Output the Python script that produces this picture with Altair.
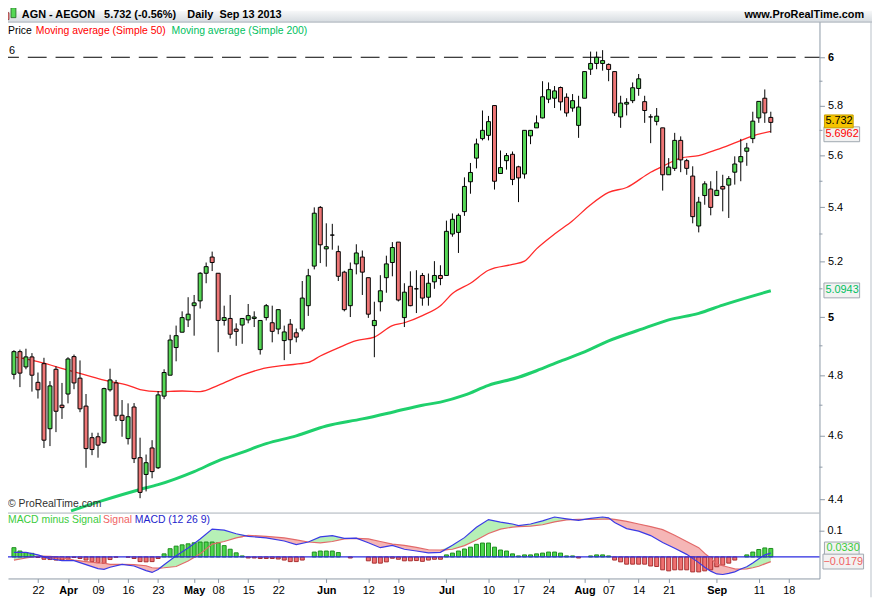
import json
import altair as alt
import pandas as pd

# ---------------- data ----------------
idx = list(range(1, 128))  # trading days Mar 18 .. Sep 13 2013

opens = [4.803,4.880,4.828,4.862,4.776,4.839,4.623,4.820,4.700,4.737,
4.863,4.790,4.697,4.594,4.597,4.578,4.751,4.774,4.667,4.591,
4.694,4.530,4.477,4.561,4.498,4.730,4.800,4.894,4.947,4.990,
5.040,5.057,5.156,5.215,5.156,4.988,4.995,4.958,4.972,4.990,
4.995,4.887,4.998,4.980,4.958,4.918,4.975,4.945,4.958,5.040,
5.182,5.400,5.245,5.296,5.235,5.160,5.040,5.190,5.215,5.140,
4.970,5.054,5.140,5.195,5.270,4.998,5.109,5.100,5.148,5.070,
5.125,5.148,5.148,5.300,5.306,5.384,5.498,5.590,5.667,5.680,
5.800,5.530,5.580,5.605,5.556,5.528,5.678,5.710,5.750,5.826,
5.830,5.874,5.834,5.790,5.720,5.830,5.950,5.974,5.974,5.970,
5.940,5.754,5.806,5.820,5.870,5.816,5.754,5.736,5.710,5.525,
5.550,5.660,5.580,5.520,5.330,5.445,5.470,5.445,5.480,5.485,
5.535,5.575,5.617,5.667,5.750,5.830,5.752]

highs = [4.885,4.887,4.890,4.875,4.809,4.859,4.780,4.830,4.774,4.861,
4.870,4.850,4.737,4.610,4.610,4.758,4.822,4.784,4.717,4.706,
4.707,4.594,4.540,4.586,4.747,4.820,4.938,4.970,5.020,5.070,
5.078,5.160,5.195,5.235,5.156,5.040,5.078,4.978,4.995,5.046,
5.020,4.988,5.046,5.040,5.026,4.970,4.993,4.960,5.128,5.172,
5.400,5.405,5.340,5.338,5.257,5.165,5.195,5.262,5.239,5.140,
5.054,5.149,5.220,5.270,5.270,5.120,5.163,5.167,5.157,5.155,
5.200,5.185,5.350,5.377,5.377,5.515,5.571,5.667,5.780,5.758,
5.800,5.620,5.610,5.616,5.560,5.700,5.700,5.760,5.900,5.895,
5.880,5.878,5.850,5.847,5.840,5.940,6.024,6.024,6.030,5.974,
5.940,5.840,5.830,5.895,5.930,5.840,5.765,5.790,5.710,5.590,
5.690,5.676,5.587,5.558,5.440,5.500,5.500,5.540,5.525,5.520,
5.597,5.666,5.650,5.775,5.817,5.866,5.775]

lows = [4.786,4.760,4.820,4.745,4.722,4.561,4.567,4.612,4.655,4.706,
4.753,4.677,4.498,4.538,4.530,4.575,4.745,4.648,4.597,4.572,
4.513,4.403,4.424,4.465,4.494,4.720,4.800,4.847,4.947,4.965,
4.935,5.030,5.120,5.164,4.878,4.970,4.925,4.900,4.907,4.978,
4.965,4.870,4.988,4.912,4.940,4.851,4.872,4.912,4.950,5.004,
5.170,5.193,5.180,5.242,5.128,5.020,5.000,5.152,5.078,4.997,
4.861,5.020,5.086,5.145,5.055,4.965,5.038,5.014,5.040,5.040,
5.100,5.113,5.148,5.290,5.230,5.368,5.452,5.550,5.660,5.660,
5.468,5.528,5.545,5.485,5.420,5.510,5.645,5.710,5.748,5.810,
5.790,5.780,5.755,5.775,5.670,5.830,5.926,5.950,5.944,5.900,
5.758,5.710,5.760,5.810,5.840,5.730,5.649,5.720,5.464,5.525,
5.540,5.535,5.525,5.340,5.306,5.410,5.370,5.445,5.385,5.360,
5.487,5.500,5.560,5.649,5.730,5.730,5.690]

closes = [4.880,4.807,4.862,4.800,4.751,4.586,4.764,4.680,4.692,4.855,
4.774,4.688,4.559,4.556,4.570,4.755,4.784,4.665,4.650,4.662,
4.527,4.421,4.514,4.486,4.734,4.809,4.920,4.935,4.998,5.010,
5.050,5.156,5.180,5.195,4.988,4.998,4.940,4.950,4.995,5.005,
5.000,4.988,5.040,4.950,5.026,4.948,4.921,4.930,5.067,5.147,
5.378,5.260,5.253,5.296,5.145,5.026,5.170,5.230,5.160,5.010,
4.988,5.093,5.190,5.250,5.060,5.088,5.040,5.100,5.067,5.120,
5.148,5.137,5.310,5.355,5.370,5.480,5.534,5.646,5.700,5.735,
5.500,5.553,5.600,5.507,5.513,5.700,5.700,5.730,5.836,5.865,
5.860,5.815,5.770,5.820,5.794,5.940,5.974,6.000,5.986,5.949,
5.770,5.810,5.813,5.873,5.910,5.780,5.754,5.757,5.525,5.555,
5.660,5.583,5.550,5.365,5.420,5.490,5.400,5.465,5.470,5.510,
5.567,5.596,5.630,5.737,5.817,5.770,5.732]

sma50_idx = [1,5,10,13,16,20,22,25,29,32,35,39,42,46,50,52,55,58,61,64,
             66,69,72,74,77,80,84,86,88,91,94,97,100,103,107,109,112,115,118,121,124,127]
sma50_val = [4.862,4.846,4.817,4.800,4.783,4.766,4.752,4.745,4.747,4.745,
             4.766,4.800,4.820,4.833,4.843,4.865,4.893,4.918,4.930,4.970,
             4.980,5.005,5.040,5.083,5.120,5.167,5.188,5.200,5.245,5.300,
             5.350,5.410,5.457,5.476,5.535,5.558,5.590,5.600,5.623,5.650,5.678,5.696]

sma200_idx = [10.5,16,22,25,31,35,39,43,48,53,59,64,69,72,76,80,85,88,92,96,100,106,110,115,119,127]
sma200_val = [4.364,4.397,4.430,4.445,4.486,4.520,4.547,4.575,4.600,4.632,4.655,4.677,4.700,
              4.710,4.733,4.766,4.793,4.815,4.848,4.879,4.917,4.961,4.990,5.013,5.042,5.093]

hist = [0.036,0.023,0.017,0.014,-0.002,-0.009,-0.010,-0.012,-0.012,-0.008,
-0.002,-0.006,-0.012,-0.018,-0.022,-0.025,-0.010,-0.001,0.000,-0.001,
-0.006,-0.018,-0.019,-0.018,-0.006,0.012,0.032,0.042,0.047,0.051,
0.055,0.058,0.058,0.058,0.055,0.044,0.030,0.016,0.004,-0.004,
-0.004,-0.006,-0.006,-0.006,-0.008,-0.012,-0.018,-0.018,-0.012,0.000,
0.019,0.023,0.023,0.023,0.017,0.000,-0.004,0.000,0.000,-0.015,
-0.024,-0.024,-0.019,-0.005,-0.009,-0.015,-0.015,-0.014,-0.017,-0.012,
-0.009,-0.009,0.008,0.015,0.023,0.031,0.038,0.049,0.054,0.054,
0.038,0.027,0.023,0.012,0.004,0.008,0.008,0.012,0.015,0.019,
0.019,0.015,0.004,0.004,-0.004,0.000,0.004,0.008,0.008,0.004,
-0.012,-0.019,-0.028,-0.028,-0.028,-0.028,-0.035,-0.037,-0.050,-0.054,
-0.050,-0.050,-0.050,-0.058,-0.058,-0.054,-0.050,-0.038,-0.032,-0.024,
-0.012,0.000,0.008,0.019,0.029,0.035,0.033]

macd_idx = [1,3,5,7,9,11,13,15,16,17,19,21,23,24,25,26,28,30,32,34,
            36,38,40,43,46,48,50,52,54,56,58,60,62,64,66,68,70,72,74,76,
            78,80,82,84,85,87,89,91,93,95,97,99,100,101,103,105,107,109,111,113,
            115,116,117,118,119,120,121,122,123,124,125,126,127]
macd_val = [0.018,0.018,0.008,-0.007,-0.014,-0.014,-0.030,-0.045,-0.048,-0.040,
            -0.029,-0.035,-0.053,-0.060,-0.049,-0.030,0.005,0.035,0.070,0.108,
            0.104,0.090,0.080,0.074,0.062,0.048,0.058,0.078,0.083,0.072,
            0.073,0.055,0.036,0.045,0.030,0.023,0.016,0.018,0.045,0.075,
            0.115,0.145,0.135,0.128,0.122,0.128,0.140,0.155,0.148,0.142,
            0.150,0.155,0.152,0.134,0.110,0.100,0.083,0.056,0.034,0.010,
            -0.022,-0.040,-0.055,-0.066,-0.068,-0.064,-0.058,-0.047,-0.038,-0.023,
            -0.007,0.008,0.015]
signal_val = [-0.012,-0.004,0.003,0.002,-0.002,-0.012,-0.018,-0.023,-0.024,-0.029,
              -0.029,-0.030,-0.034,-0.042,-0.043,-0.042,-0.037,-0.016,0.012,0.050,
              0.060,0.074,0.084,0.080,0.074,0.066,0.058,0.055,0.060,0.070,
              0.072,0.070,0.060,0.050,0.045,0.037,0.028,0.027,0.030,0.044,
              0.066,0.091,0.108,0.116,0.118,0.120,0.125,0.136,0.144,0.146,
              0.146,0.147,0.148,0.146,0.138,0.128,0.118,0.106,0.084,0.060,
              0.036,0.014,-0.005,-0.028,-0.034,-0.040,-0.046,-0.047,-0.046,-0.042,
              -0.036,-0.027,-0.018]

tick_idx = [5,10,15,20,25,31,35,40,45,53,60,65,73,80,85,90,96,100,105,110,118,125,130]
tick_lbl = ["22","Apr","09","16","23","May","08","15","22","Jun","12","19",
            "Jul","10","17","24","Aug","07","14","21","Sep","11","18"]
month_idx = [10,31,53,73,96,118]

price_ticks = [4.4,4.6,4.8,5.0,5.2,5.4,5.6,5.8,6.0]
price_minor = [4.5,4.7,4.9,5.1,5.3,5.5,5.7,5.9]
level_line = [6.0]
last_price = [5.732]
last_sma50 = [5.6962]
last_sma200 = [5.0943]
macd_ticks = [0.1]
last_hist = [0.0330]
last_signal = [-0.0179]

# ---------------- layout / style ----------------
W, H = 819, 573
FONT = "Liberation Sans"
GREEN = "#55d855"
RED = "#ee7676"
GRAY = "#8d99a6"

xscale = alt.Scale(domain=[0.837, 134.28], nice=False, zero=False)
pscale = alt.Scale(type="log", domain=[4.1618, 6.1993], nice=False)
mscale = alt.Scale(domain=[-0.08346, 2.1204], nice=False, zero=False)

xaxis = alt.Axis(
    values=tick_idx,
    labelExpr=f"{json.dumps(tick_lbl)}[indexof({json.dumps(tick_idx)}, datum.value)]",
    labelFontWeight={"expr": f"indexof({json.dumps(month_idx)}, datum.value) >= 0 ? 'bold' : 'normal'"},
    labelFont=FONT, labelFontSize=11, labelColor="#000000",
    tickSize=4, tickColor=GRAY, domainColor=GRAY, labelPadding=2,
    title=None, grid=False, labelFlush=False, labelOverlap=False, labelBound=False,
)
paxis = alt.Axis(
    orient="right", values=price_ticks, format=".1~f",
    labelFontWeight={"expr": "datum.value == 6 || datum.value == 5 ? 'bold' : 'normal'"},
    labelFont=FONT, labelFontSize=11, labelColor="#000000",
    tickSize=5, tickColor=GRAY, domainColor=GRAY, labelPadding=3,
    title=None, grid=False, labelFlush=False, labelOverlap=False, labelBound=False,
)

X = alt.X("i:Q", scale=xscale, axis=xaxis)
def PY(f):
    return alt.Y(f, scale=pscale, axis=paxis)
def MY(f):
    return alt.Y(f, scale=mscale, axis=None)

def box_path(w, h):
    r = h / w
    return f"M-1,-{r:.4f}L1,-{r:.4f}L1,{r:.4f}L-1,{r:.4f}Z"

def txt(s, x, y, color="#000000", size=11, weight="normal", align="left"):
    return alt.Chart(pd.DataFrame({"t": [s]})).mark_text(
        align=align, baseline="middle", font=FONT, fontSize=size, fontWeight=weight, color=color
    ).encode(x=alt.value(x), y=alt.value(y), text="t:N")

candles = pd.DataFrame({"i": idx, "o": opens, "h": highs, "l": lows, "c": closes})

# ---------------- price panel ----------------
dash6 = alt.Chart(pd.DataFrame({"v": level_line})).mark_rule(
    color="#000000", strokeDash=[19, 9], strokeDashOffset=8, strokeWidth=1
).encode(y=PY("v:Q"), x=alt.value(0), x2=alt.value(W))
six_lbl = alt.Chart(pd.DataFrame({"v": level_line})).mark_text(
    align="left", baseline="bottom", dy=-1, font=FONT, fontSize=11, color="#000000"
).encode(y=PY("v:Q"), x=alt.value(1), text=alt.Text("v:Q", format=".0f"))

sma200 = alt.Chart(pd.DataFrame({"i": sma200_idx, "v": sma200_val})).mark_line(
    color="#1fd06c", strokeWidth=3, interpolate="monotone"
).encode(x=X, y=PY("v:Q"))
sma50 = alt.Chart(pd.DataFrame({"i": sma50_idx, "v": sma50_val})).mark_line(
    color="#ff2a2a", strokeWidth=1.3, interpolate="monotone"
).encode(x=X, y=PY("v:Q"))

wicks = alt.Chart(candles).mark_rule(color="#000000", strokeWidth=1).encode(
    x=X, y=PY("l:Q"), y2="h:Q")
bodies = alt.Chart(candles).mark_bar(size=4, stroke="#000000", strokeWidth=1).encode(
    x=X, y=PY("o:Q"), y2="c:Q",
    color=alt.condition("datum.c >= datum.o", alt.value(GREEN), alt.value(RED)))

minor = alt.Chart(pd.DataFrame({"v": price_minor})).mark_rule(color=GRAY).encode(
    y=PY("v:Q"), x=alt.value(W), x2=alt.value(W + 3))

def value_box(vals, w, h, fill, stroke, xc, dy=0):
    return alt.Chart(pd.DataFrame({"v": vals})).mark_point(
        shape=box_path(w, h), size=w * w, filled=True, fill=fill, stroke=stroke,
        strokeWidth=1, opacity=1, fillOpacity=1, yOffset=dy
    ).encode(x=alt.value(xc), y=PY("v:Q"))

box50 = value_box(last_sma50, 36, 15, "#f2f2f2", "#a0a8b0", 841.5, dy=3)
box200 = value_box(last_sma200, 36, 15, "#f2f2f2", "#a0a8b0", 841.5)
boxlast = value_box(last_price, 29, 13, "#f5c400", "#c8a000", 838.5, dy=-1)
t50 = alt.Chart(pd.DataFrame({"v": last_sma50})).mark_text(
    align="left", baseline="middle", font=FONT, fontSize=11, color="#ff0000", dy=3
).encode(x=alt.value(825), y=PY("v:Q"), text=alt.Text("v:Q", format=".4f"))
t200 = alt.Chart(pd.DataFrame({"v": last_sma200})).mark_text(
    align="left", baseline="middle", font=FONT, fontSize=11, color="#00c060"
).encode(x=alt.value(825), y=PY("v:Q"), text=alt.Text("v:Q", format=".4f"))
tlast = alt.Chart(pd.DataFrame({"v": last_price})).mark_text(
    align="left", baseline="middle", font=FONT, fontSize=11, color="#000000", dy=-1
).encode(x=alt.value(825), y=PY("v:Q"), text=alt.Text("v:Q", format=".3f"))

grad = alt.LinearGradient(
    gradient="linear",
    stops=[alt.GradientStop(color="#f7f8f9", offset=0), alt.GradientStop(color="#d6dbe0", offset=1)],
    x1=0, x2=0, y1=0, y2=1)
header = alt.Chart(pd.DataFrame({"a": [0]})).mark_rect(color=grad).encode(
    x=alt.value(0), x2=alt.value(872), y=alt.value(0), y2=alt.value(11.5))
header_line = alt.Chart(pd.DataFrame({"a": [0]})).mark_rule(color="#a8b0b8").encode(
    x=alt.value(0), x2=alt.value(872), y=alt.value(11.5))
icon_r = alt.Chart(pd.DataFrame({"a": [0]})).mark_rect(color="#ee7676", stroke="#803030", strokeWidth=0.8).encode(
    x=alt.value(-4), x2=alt.value(1), y=alt.value(2), y2=alt.value(9))
icon_g = alt.Chart(pd.DataFrame({"a": [0]})).mark_rect(color="#55d855", stroke="#206020", strokeWidth=0.8).encode(
    x=alt.value(3), x2=alt.value(8), y=alt.value(-3), y2=alt.value(7))

macd_top = alt.Chart(pd.DataFrame({"a": [0]})).mark_rule(color="#a8b0b8").encode(
    x=alt.value(0), x2=alt.value(W), y=alt.value(507))
right_border = alt.Chart(pd.DataFrame({"a": [0]})).mark_rule(color="#b8c0c8").encode(
    x=alt.value(871), y=alt.value(11.5), y2=alt.value(592))

LEG = 10.5
texts = [
    txt("AGN - AEGON", 14, 4, weight="bold"),
    txt("5.732 (-0.56%)", 97, 4, weight="bold"),
    txt("Daily\u00a0 Sep 13 2013", 181, 4, weight="bold"),
    txt("www.ProRealTime.com", 864, 4, weight="bold", align="right"),
    txt("Price", 0, 20.5, size=LEG),
    txt("Moving average (Simple 50)", 28, 20.5, color="#ff0000", size=LEG),
    txt("Moving average (Simple 200)", 165, 20.5, color="#00c060", size=LEG),
    txt("\u00a9 ProRealTime.com", 0, 498, color="#303030", size=LEG),
    txt("MACD minus Signal", 0, 514.5, color="#3ccc3c", size=LEG),
    txt("Signal", 96, 514.5, color="#f06464", size=LEG),
    txt("MACD (12 26 9)", 128, 514.5, color="#2424cc", size=LEG),
]

price_layer = alt.layer(
    header, icon_r, icon_g, header_line, dash6, six_lbl, sma200, sma50, wicks, bodies,
    minor, box50, t50, boxlast, tlast, box200, t200, macd_top, right_border, *texts
)

# ---------------- MACD panel ----------------
mdf = pd.DataFrame({"i": macd_idx, "m": macd_val, "s": signal_val})
hdf = pd.DataFrame({"i": idx, "h": hist})

green_area = alt.Chart(mdf).transform_calculate(hi="max(datum.m, datum.s)").mark_area(
    color="#b6f0b6", opacity=1).encode(x=X, y=MY("hi:Q"), y2="s:Q")
red_area = alt.Chart(mdf).transform_calculate(lo="min(datum.m, datum.s)").mark_area(
    color="#f5b6b6", opacity=1).encode(x=X, y=MY("lo:Q"), y2="s:Q")
hbars = alt.Chart(hdf).transform_filter("datum.h != 0").transform_calculate(z="0").mark_bar(
    size=4, strokeWidth=1).encode(
    x=X, y=MY("h:Q"), y2="z:Q",
    color=alt.condition("datum.h > 0", alt.value("#4cd64c"), alt.value("#ee7070")),
    stroke=alt.condition("datum.h > 0", alt.value("#1c8c1c"), alt.value("#a83030")))
sig_line = alt.Chart(mdf).mark_line(color="#e26a6a", strokeWidth=1.2).encode(x=X, y=MY("s:Q"))
macd_line = alt.Chart(mdf).mark_line(color="#3a3ae6", strokeWidth=1.2).encode(x=X, y=MY("m:Q"))
zero_line = alt.Chart(pd.DataFrame({"v": [0.0]})).mark_rule(color="#2a2ae0", strokeWidth=1.2).encode(
    y=MY("v:Q"), x=alt.value(0), x2=alt.value(W))

mtick = alt.Chart(pd.DataFrame({"v": macd_ticks})).mark_rule(color=GRAY).encode(
    y=MY("v:Q"), x=alt.value(W), x2=alt.value(W + 5))
mtick_lbl = alt.Chart(pd.DataFrame({"v": macd_ticks})).mark_text(
    align="left", baseline="middle", font=FONT, fontSize=11, color="#000000"
).encode(y=MY("v:Q"), x=alt.value(W + 8), text=alt.Text("v:Q", format=".1f"))

def mbox(vals, w, h, xc):
    return alt.Chart(pd.DataFrame({"v": vals})).mark_point(
        shape=box_path(w, h), size=w * w, filled=True, fill="#f2f2f2", stroke="#a0a8b0",
        strokeWidth=1, opacity=1, fillOpacity=1
    ).encode(x=alt.value(xc), y=MY("v:Q"))

mbox_h = mbox(last_hist, 35, 13, 841.5)
mbox_s = mbox(last_signal, 41, 15, 843)
mt_h = alt.Chart(pd.DataFrame({"v": last_hist})).mark_text(
    align="left", baseline="middle", font=FONT, fontSize=11, color="#3ccc3c"
).encode(x=alt.value(826), y=MY("v:Q"), text=alt.Text("v:Q", format=".4f"))
mt_s = alt.Chart(pd.DataFrame({"v": last_signal})).mark_text(
    align="left", baseline="middle", font=FONT, fontSize=11, color="#f06464"
).encode(x=alt.value(823), y=MY("v:Q"), text=alt.Text("v:Q", format=".4f"))

macd_layer = alt.layer(green_area, red_area, hbars, sig_line, macd_line, zero_line,
                       mtick, mtick_lbl, mbox_h, mt_h, mbox_s, mt_s)

chart = alt.layer(price_layer, macd_layer).resolve_scale(y="independent").properties(
    width=W, height=H,
    autosize=alt.AutoSizeParams(type="none"),
    padding={"left": 0, "top": 0, "right": 53, "bottom": 19},
    background="white",
).configure_view(stroke=None)

chart.save("out.html", embed_options={"renderer": "svg", "actions": False})
